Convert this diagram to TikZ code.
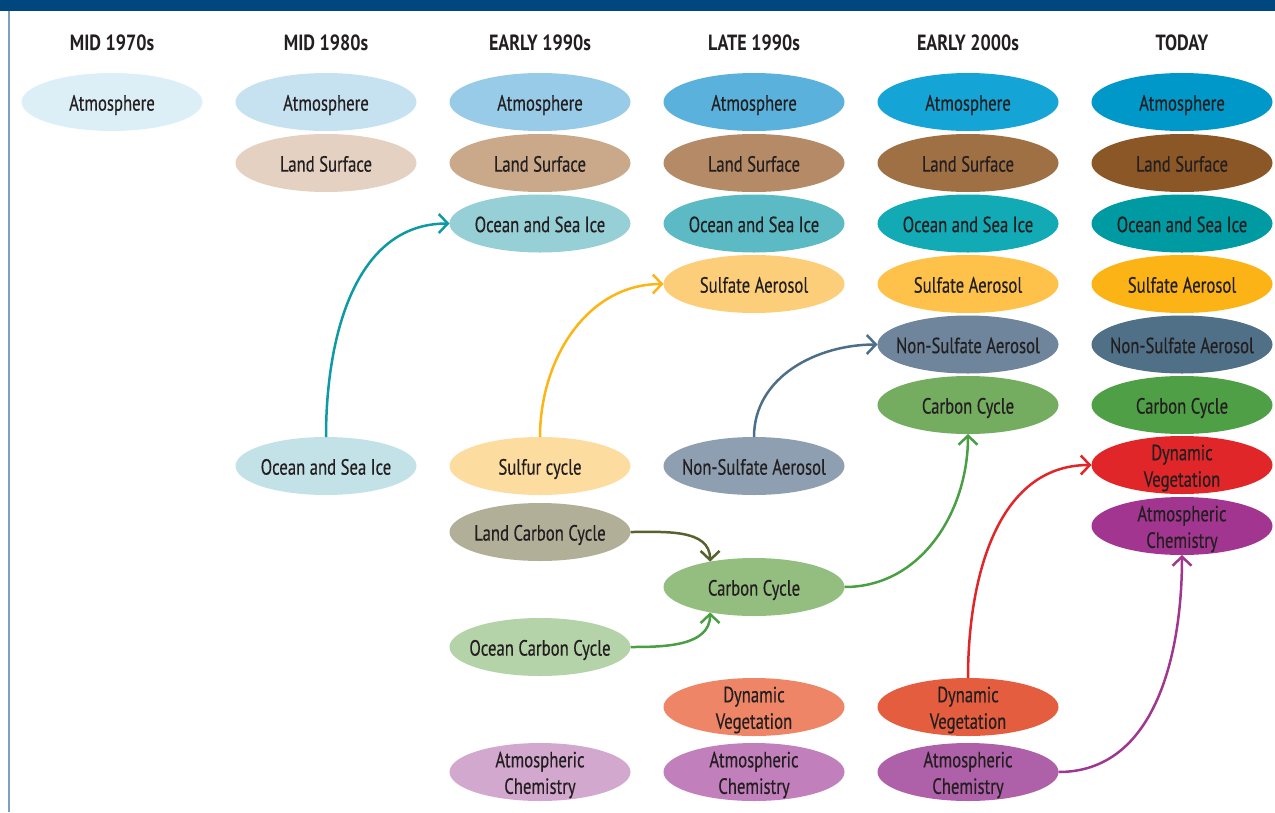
\documentclass[tikz,border=0pt]{standalone}
\usepackage{fontspec}
\setmainfont{PT Sans}[FakeStretch=0.76,FakeBold=0.35]
\newfontfamily\hfont{PT Sans}[FakeStretch=0.82]
\usetikzlibrary{shapes.geometric,arrows.meta}
\definecolor{txtc}{HTML}{231F20}
\definecolor{barc}{HTML}{00477F}
\definecolor{linec}{HTML}{7DA0C2}
% 1970s
\definecolor{aA}{HTML}{DCEEF6}
% 1980s
\definecolor{bA}{HTML}{C6E2F0}\definecolor{bL}{HTML}{E4D1C1}\definecolor{bO}{HTML}{C3E2E8}
% early 1990s
\definecolor{cA}{HTML}{98CBE8}\definecolor{cL}{HTML}{C9A98A}\definecolor{cO}{HTML}{96CFD6}
\definecolor{cS}{HTML}{FDDCA0}\definecolor{cLC}{HTML}{B2AF99}\definecolor{cOC}{HTML}{B5D3A8}
\definecolor{cCh}{HTML}{D2A8CF}
% late 1990s
\definecolor{dA}{HTML}{5AB2DC}\definecolor{dL}{HTML}{B48B66}\definecolor{dO}{HTML}{5CBAC4}
\definecolor{dS}{HTML}{FDCE7A}\definecolor{dN}{HTML}{8E9FB2}\definecolor{dC}{HTML}{94BE80}
\definecolor{dD}{HTML}{EE8566}\definecolor{dCh}{HTML}{C17FBB}
% early 2000s
\definecolor{eA}{HTML}{14A5D6}\definecolor{eL}{HTML}{A07045}\definecolor{eO}{HTML}{12ABB5}
\definecolor{eS}{HTML}{FEC24A}\definecolor{eN}{HTML}{6E859B}\definecolor{eC}{HTML}{74AC60}
\definecolor{eD}{HTML}{E55D3F}\definecolor{eCh}{HTML}{AE60A8}
% today
\definecolor{fA}{HTML}{0097C9}\definecolor{fL}{HTML}{8C5727}\definecolor{fO}{HTML}{009BA2}
\definecolor{fS}{HTML}{FCB316}\definecolor{fN}{HTML}{4F7087}\definecolor{fC}{HTML}{4E9F45}
\definecolor{fD}{HTML}{E1262A}\definecolor{fCh}{HTML}{A2358F}
% arrows
\definecolor{arTeal}{HTML}{0E9AA4}\definecolor{arYel}{HTML}{FDB515}
\definecolor{arSlate}{HTML}{4D6E88}\definecolor{arOlive}{HTML}{59612F}
\definecolor{arGreen}{HTML}{4A9E44}\definecolor{arRed}{HTML}{E1262A}
\definecolor{arPurple}{HTML}{A0378F}
\tikzset{
  comp/.style={ellipse, fill=#1, minimum width=181pt, minimum height=58pt,
    inner sep=0pt, outer sep=0pt},
  txt/.style={align=center, font=\fontsize{22}{26.5}\selectfont, text=txtc, inner sep=0pt, yshift=-3pt},
  hdr/.style={font=\hfont\bfseries\fontsize{22}{26}\selectfont, text=txtc, inner sep=0pt},
  arr/.style={line width=2.5pt, -{Straight Barb[length=9pt,width=19pt]}},
}
\newcommand\mystrut{\vphantom{Ap}}
\newcommand\comp[4]{\node[comp=#1, label={[txt]center:\mystrut#4\mystrut}] (#2) at #3 {};}
\begin{document}
\begin{tikzpicture}[x=1pt,y=1pt]
\useasboundingbox (0,0) rectangle (1275,-812);
\fill[barc] (0,0) rectangle (1275,-11);
\draw[linec, line width=2pt] (8.5,-11) -- (8.5,-812);
% headers
\node[hdr] (h1) at (112,-43) {MID 1970s};
\node[hdr] (h2) at (326,-43) {MID 1980s};
\node[hdr] (h3) at (540,-43) {EARLY 1990s};
\node[hdr] (h4) at (754,-43) {LATE 1990s};
\node[hdr] (h5) at (968,-43) {EARLY 2000s};
\node[hdr] (h6) at (1182,-43) {TODAY};
% mid 1970s
\comp{aA}{atmA}{(112,-102)}{Atmosphere}
% mid 1980s
\comp{bA}{atmB}{(326,-102)}{Atmosphere}
\comp{bL}{landB}{(326,-163)}{Land Surface}
\comp{bO}{oceanB}{(326,-466)}{Ocean and Sea Ice}
% early 1990s
\comp{cA}{atmC}{(540,-102)}{Atmosphere}
\comp{cL}{landC}{(540,-163)}{Land Surface}
\comp{cO}{oceanC}{(540,-223.5)}{Ocean and Sea Ice}
\comp{cS}{sulfC}{(540,-466)}{Sulfur cycle}
\comp{cLC}{landcC}{(540,-532)}{Land Carbon Cycle}
\comp{cOC}{oceancC}{(540,-647)}{Ocean Carbon Cycle}
\comp{cCh}{chemC}{(540,-772)}{Atmospheric\\Chemistry}
% late 1990s
\comp{dA}{atmD}{(754,-102)}{Atmosphere}
\comp{dL}{landD}{(754,-163)}{Land Surface}
\comp{dO}{oceanD}{(754,-223.5)}{Ocean and Sea Ice}
\comp{dS}{sulfD}{(754,-284)}{Sulfate Aerosol}
\comp{dN}{nonsD}{(754,-466)}{Non-Sulfate Aerosol}
\comp{dC}{carbD}{(754,-587)}{Carbon Cycle}
\comp{dD}{dynD}{(754,-707)}{Dynamic\\Vegetation}
\comp{dCh}{chemD}{(754,-772)}{Atmospheric\\Chemistry}
% early 2000s
\comp{eA}{atmE}{(968,-102)}{Atmosphere}
\comp{eL}{landE}{(968,-163)}{Land Surface}
\comp{eO}{oceanE}{(968,-223.5)}{Ocean and Sea Ice}
\comp{eS}{sulfE}{(968,-284)}{Sulfate Aerosol}
\comp{eN}{nonsE}{(968,-344.5)}{Non-Sulfate Aerosol}
\comp{eC}{carbE}{(968,-405)}{Carbon Cycle}
\comp{eD}{dynE}{(968,-707)}{Dynamic\\Vegetation}
\comp{eCh}{chemE}{(968,-772)}{Atmospheric\\Chemistry}
% today
\comp{fA}{atmF}{(1182,-102)}{Atmosphere}
\comp{fL}{landF}{(1182,-163)}{Land Surface}
\comp{fO}{oceanF}{(1182,-223.5)}{Ocean and Sea Ice}
\comp{fS}{sulfF}{(1182,-284)}{Sulfate Aerosol}
\comp{fN}{nonsF}{(1182,-344.5)}{Non-Sulfate Aerosol}
\comp{fC}{carbF}{(1182,-405)}{Carbon Cycle}
\comp{fD}{dynF}{(1182,-465)}{Dynamic\\Vegetation}
\comp{fCh}{chemF}{(1182,-526)}{Atmospheric\\Chemistry}
% connectors
\draw[arr, arTeal] (oceanB.north) to[out=90,in=180] (oceanC.west);
\draw[arr, arYel] (sulfC.north) to[out=90,in=180] (sulfD.west);
\draw[arr, arSlate] (nonsD.north) to[out=90,in=180] (nonsE.west);
\draw[arr, arOlive] (landcC.east) to[out=0,in=90] (carbD.150);
\draw[arr, arGreen] (oceancC.east) to[out=0,in=-90] (carbD.210);
\draw[arr, arGreen] (carbD.east) to[out=0,in=-90] (carbE.south);
\draw[arr, arRed] (dynE.north) to[out=90,in=180] (dynF.west);
\draw[arr, arPurple] (chemE.east) to[out=0,in=-90] (chemF.south);
\end{tikzpicture}
\end{document}
